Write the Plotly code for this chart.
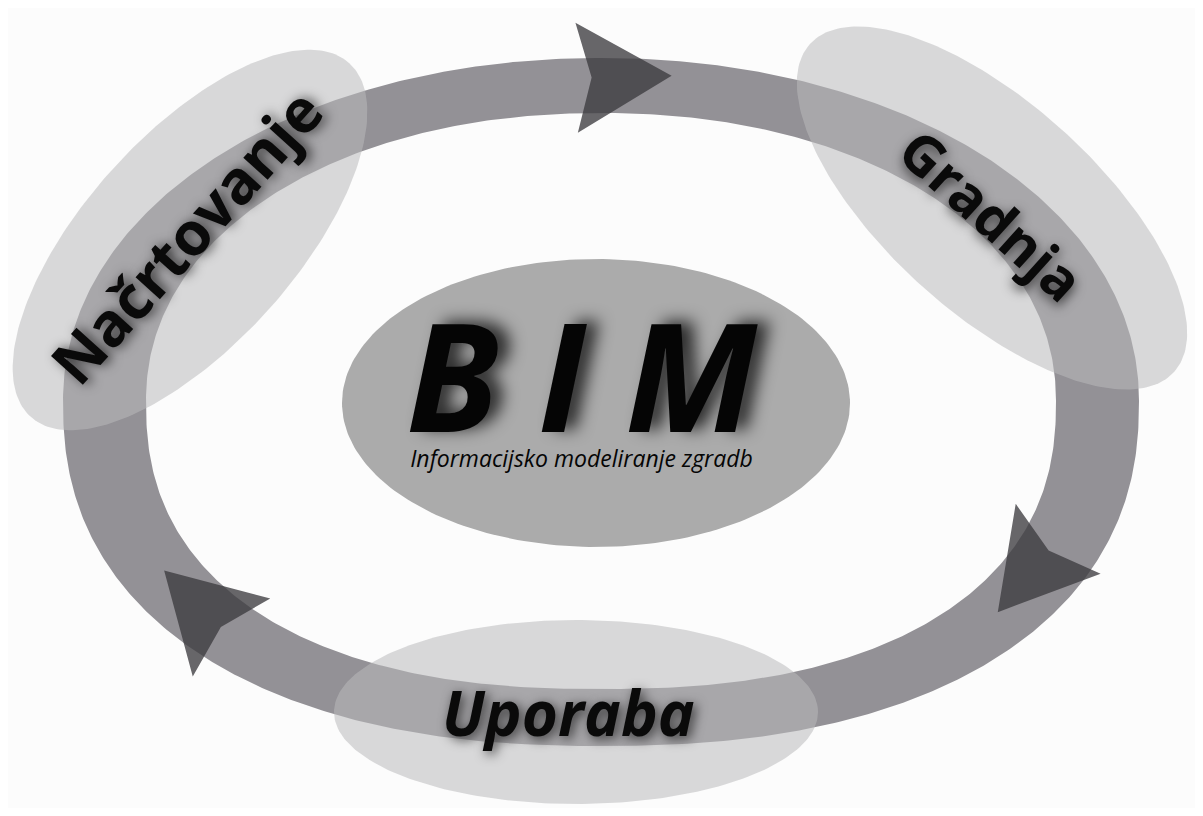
import numpy as np
import plotly.graph_objects as go

W, H = 1203, 816
PAGE_MARGIN = 8  # default browser body margin, compensated in the axis ranges

# ---- diagram content ----
TITLE = "B I M"
SUBTITLE = "Informacijsko modeliranje zgradb"
STAGES = ["Načrtovanje", "Gradnja", "Uporaba"]

# ---- ring geometry (pixel units) ----
RING_CX, RING_CY = 601, 401
OUTER = dict(a=538, b_top=343, b_bot=345, n_top=2.05, n_bot=2.3)
INNER = dict(a=455, b_top=288, b_bot=288, n_top=2.1, n_bot=2.35)

# arrows: angle parameter along the ring (deg, clockwise on screen),
# extra tilt (deg) and shift towards the inside of the ring (px)
ARROW_T = [267.5, 23.0, 135.0]
ARROW_TILT = [0.0, 8.5, 12.0]
ARROW_SHIFT = [-8.0, 6.0, -2.0]
ARROW_LEN, ARROW_HALF, ARROW_NOTCH = 95, 55, 15

# stage ellipses: centre, semi-axes, rotation (deg, clockwise on screen)
STAGE_CENTERS = [(190, 240), (992, 208), (576, 712)]
STAGE_AXES = [(238, 105), (245, 105), (242, 92)]
STAGE_ROT = [-48, 42, 0]
LABEL_POS = [(186, 236), (992, 214), (568, 712)]
LABEL_ANGLE = [-48, 42, 0]
LABEL_SIZE = [60, 56, 62]
LABEL_ITALIC = [False, False, True]

BIM_CENTER, BIM_AXES = (596, 403), (254, 144)

BAND = "#939196"
ARROW_FILL = "rgba(60,59,63,0.78)"
STAGE_FILL = "rgba(186,186,188,0.55)"
BIM_FILL = "#ababab"
BG = "#fcfcfc"


def ring_point(t, p):
    c, s = np.cos(t), np.sin(t)
    top = s < 0
    n = np.where(top, p["n_top"], p["n_bot"])
    b = np.where(top, p["b_top"], p["b_bot"])
    x = RING_CX + p["a"] * np.sign(c) * np.abs(c) ** (2 / n)
    y = RING_CY + b * np.sign(s) * np.abs(s) ** (2 / n)
    return x, y


def mid_point(t):
    xo, yo = ring_point(t, OUTER)
    xi, yi = ring_point(t, INNER)
    return (xo + xi) / 2, (yo + yi) / 2


fig = go.Figure()

# ring band (outer loop + reversed inner loop)
tt = np.linspace(0, 2 * np.pi, 721)
xo, yo = ring_point(tt, OUTER)
xi, yi = ring_point(tt[::-1], INNER)
fig.add_trace(go.Scatter(
    x=np.concatenate([xo, xi]), y=np.concatenate([yo, yi]),
    mode="lines", fill="toself", fillcolor=BAND, line=dict(width=0),
    hoverinfo="skip", showlegend=False))

# arrows
for tdeg, tilt, shift in zip(ARROW_T, ARROW_TILT, ARROW_SHIFT):
    t = np.deg2rad(tdeg)
    px, py = mid_point(t)
    qx, qy = mid_point(t + 0.01)
    d = np.array([qx - px, qy - py])
    d = d / np.linalg.norm(d)
    nrm0 = np.array([-d[1], d[0]])
    phi = np.deg2rad(tilt)
    d = np.array([np.cos(phi) * d[0] - np.sin(phi) * d[1],
                  np.sin(phi) * d[0] + np.cos(phi) * d[1]])
    nrm = np.array([-d[1], d[0]])
    P = np.array([px, py]) + nrm0 * shift
    pts = [P + nrm * ARROW_HALF, P + d * ARROW_LEN, P - nrm * ARROW_HALF,
           P + d * ARROW_NOTCH, P + nrm * ARROW_HALF]
    fig.add_trace(go.Scatter(
        x=[q[0] for q in pts], y=[q[1] for q in pts], mode="lines",
        fill="toself", fillcolor=ARROW_FILL, line=dict(width=0),
        hoverinfo="skip", showlegend=False))

# stage ellipses
th = np.linspace(0, 2 * np.pi, 241)
for (cx, cy), (A, B), rot in zip(STAGE_CENTERS, STAGE_AXES, STAGE_ROT):
    r = np.deg2rad(rot)
    ex = A * np.cos(th)
    ey = B * np.sin(th)
    fig.add_trace(go.Scatter(
        x=cx + ex * np.cos(r) - ey * np.sin(r),
        y=cy + ex * np.sin(r) + ey * np.cos(r),
        mode="lines", fill="toself", fillcolor=STAGE_FILL, line=dict(width=0),
        hoverinfo="skip", showlegend=False))

# central BIM ellipse
fig.add_trace(go.Scatter(
    x=BIM_CENTER[0] + BIM_AXES[0] * np.cos(th),
    y=BIM_CENTER[1] + BIM_AXES[1] * np.sin(th),
    mode="lines", fill="toself", fillcolor=BIM_FILL, line=dict(width=0),
    hoverinfo="skip", showlegend=False))

FONT = "Open Sans, Lato, DejaVu Sans, sans-serif"

for name, (lx, ly), ang, size, ital in zip(STAGES, LABEL_POS, LABEL_ANGLE,
                                          LABEL_SIZE, LABEL_ITALIC):
    fig.add_annotation(
        x=lx, y=ly, xref="x", yref="y", text=name, showarrow=False,
        textangle=ang, xanchor="center", yanchor="middle",
        font=dict(family=FONT, size=size, color="#0a0a0a", weight="bold",
                  style="italic" if ital else "normal",
                  shadow="3px 3px 12px rgba(0,0,0,0.7)"))

# title and subtitle in one text block (two lines)
fig.add_annotation(
    x=582, y=374, xref="x", yref="y",
    text=("<b><span style='font-size:150px'>" + TITLE + "</span></b><br>"
          "<span style='font-size:23px;text-shadow:none'>" + SUBTITLE
          + "</span>"),
    showarrow=False, xanchor="center", yanchor="middle",
    font=dict(family=FONT, size=27, color="#050505", style="italic",
              shadow="12px -3px 16px rgba(0,0,0,0.75)"))

fig.update_layout(
    width=W - 2 * PAGE_MARGIN, height=H - 2 * PAGE_MARGIN,
    margin=dict(l=0, r=0, t=0, b=0),
    paper_bgcolor=BG, plot_bgcolor=BG, showlegend=False,
    xaxis=dict(range=[PAGE_MARGIN, W - PAGE_MARGIN], visible=False,
               fixedrange=True),
    yaxis=dict(range=[H - PAGE_MARGIN, PAGE_MARGIN], visible=False,
               fixedrange=True),
)

fig.write_html("out.html")
